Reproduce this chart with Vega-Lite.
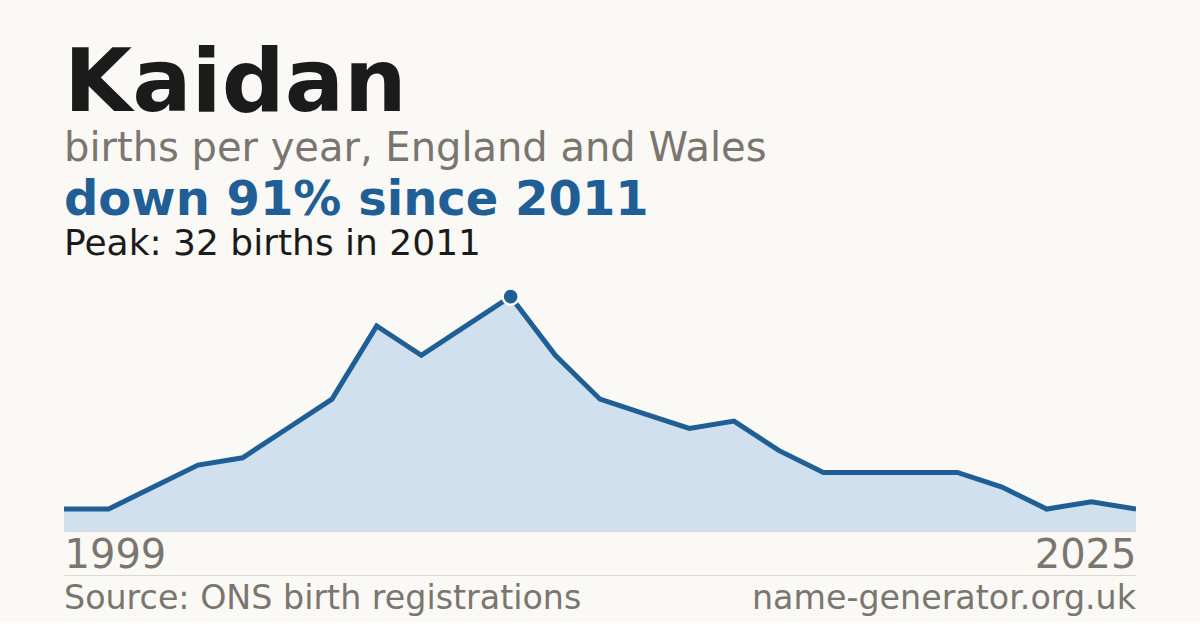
{
  "$schema": "https://vega.github.io/schema/vega-lite/v6.json",
  "background": "#faf9f5",
  "padding": {"left": 64, "right": 64, "top": 41, "bottom": 0},
  "title": {
    "text": "Kaidan",
    "subtitle": "births per year, England and Wales",
    "anchor": "start",
    "font": "DejaVu Sans",
    "fontSize": 88,
    "fontWeight": "bold",
    "color": "#1b1b1b",
    "subtitleFont": "DejaVu Sans",
    "subtitleFontSize": 40,
    "subtitleColor": "#7a766f",
    "subtitlePadding": 0,
    "offset": 8
  },
  "spacing": 0,
  "vconcat": [
    {
      "width": 1072,
      "height": 249,
      "title": {
        "text": "down 91% since 2011",
        "subtitle": "Peak: 32 births in 2011",
        "anchor": "start",
        "font": "DejaVu Sans",
        "fontSize": 48,
        "fontWeight": "bold",
        "color": "#1f5f96",
        "subtitleFont": "DejaVu Sans",
        "subtitleFontSize": 36,
        "subtitleColor": "#1b1b1b",
        "subtitlePadding": 2,
        "offset": 20
      },
      "data": {
        "values": [
          {"year": 1999, "births": 3},
          {"year": 2000, "births": 3},
          {"year": 2002, "births": 6},
          {"year": 2003, "births": 9},
          {"year": 2004, "births": 10},
          {"year": 2005, "births": 14},
          {"year": 2006, "births": 18},
          {"year": 2007, "births": 28},
          {"year": 2008, "births": 24},
          {"year": 2010, "births": 28},
          {"year": 2011, "births": 32},
          {"year": 2012, "births": 24},
          {"year": 2013, "births": 18},
          {"year": 2014, "births": 16},
          {"year": 2015, "births": 14},
          {"year": 2016, "births": 15},
          {"year": 2017, "births": 11},
          {"year": 2018, "births": 8},
          {"year": 2019, "births": 8},
          {"year": 2020, "births": 8},
          {"year": 2021, "births": 8},
          {"year": 2022, "births": 6},
          {"year": 2023, "births": 3},
          {"year": 2024, "births": 4},
          {"year": 2025, "births": 3}
        ]
      },
      "encoding": {
        "x": {
          "field": "year",
          "type": "ordinal",
          "scale": {"type": "point", "padding": 0},
          "axis": {
            "title": null,
            "labelExpr": "datum.label == '1999' || datum.label == '2025' ? datum.label : ''",
            "labelAngle": 0,
            "labelFlush": true,
            "labelOverlap": false,
            "labelFont": "DejaVu Sans",
            "labelFontSize": 40,
            "labelColor": "#7a766f",
            "labelPadding": 4,
            "ticks": false,
            "grid": false,
            "domainColor": "#dcd8d0",
            "domainWidth": 1
          }
        },
        "y": {
          "field": "births",
          "type": "quantitative",
          "scale": {"domain": [0, 34], "nice": false},
          "axis": null
        }
      },
      "layer": [
        {"mark": {"type": "area", "color": "#d0e0ef"}},
        {"mark": {"type": "line", "color": "#1f5f96", "strokeWidth": 5, "clip": true}},
        {
          "transform": [{"filter": "datum.year == 2011"}],
          "mark": {
            "type": "point",
            "shape": "circle",
            "filled": true,
            "size": 260,
            "color": "#1f5f96",
            "stroke": "#ffffff",
            "strokeWidth": 2.5,
            "opacity": 1
          }
        }
      ]
    },
    {
      "width": 1072,
      "height": 47,
      "data": {
        "values": [
          {"label": "Source: ONS birth registrations", "side": "left"},
          {"label": "name-generator.org.uk", "side": "right"}
        ]
      },
      "encoding": {
        "x": {
          "field": "side",
          "type": "nominal",
          "scale": {"type": "point", "padding": 0, "domain": ["left", "right"]},
          "axis": {
            "orient": "top",
            "title": null,
            "labels": false,
            "ticks": false,
            "grid": false,
            "domainColor": "#dcd8d0",
            "domainWidth": 1
          }
        },
        "text": {"field": "label"}
      },
      "layer": [
        {
          "transform": [{"filter": "datum.side == 'left'"}],
          "mark": {"type": "text", "align": "left", "baseline": "middle", "font": "DejaVu Sans", "fontSize": 33.3, "color": "#7a766f"}
        },
        {
          "transform": [{"filter": "datum.side == 'right'"}],
          "mark": {"type": "text", "align": "right", "baseline": "middle", "font": "DejaVu Sans", "fontSize": 33.3, "color": "#7a766f"}
        }
      ]
    }
  ],
  "config": {
    "view": {"stroke": null},
    "font": "DejaVu Sans"
  }
}
